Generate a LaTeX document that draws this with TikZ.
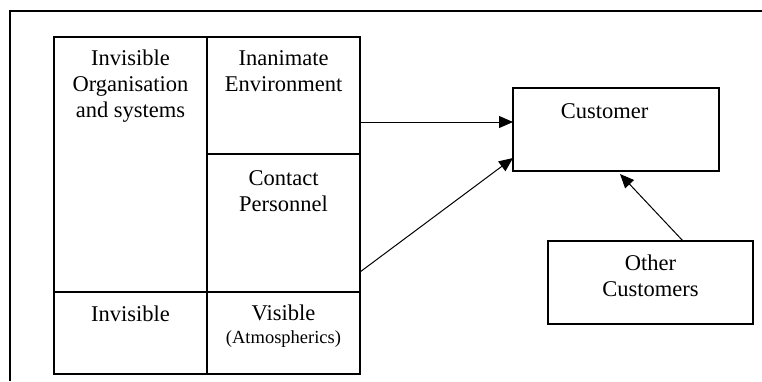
\documentclass[tikz,border=0pt]{standalone}
\usepackage{fontspec}
\setmainfont{Liberation Serif}
\usetikzlibrary{arrows.meta}
\begin{document}
\begin{tikzpicture}[x=1pt,y=-1pt,
  line width=1.2pt,
  cell/.style={draw, rectangle, inner sep=0pt, outer sep=0pt},
  % multi-line texts are placed by the baseline of their last line
  txt/.style={inner sep=0pt, align=center, anchor=base,
    font=\fontsize{22.5}{26}\selectfont},
  smalltxt/.style={inner sep=0pt, anchor=base,
    font=\fontsize{18.5}{22}\selectfont},
  arr/.style={-{Triangle[length=14pt,width=12pt]}, line width=1pt}]

\useasboundingbox (0,0) rectangle (762,381);

% open frame (top and left edges only)
\draw[line width=1.4pt] (10,381) -- (10,11) -- (762,11);

% service grid
\node[cell, minimum width=153pt, minimum height=255pt] (orgsys) at (130.5,164.5) {};
\node[cell, minimum width=153pt, minimum height=117pt] (inanimate) at (283.5,95.5) {};
\node[cell, minimum width=153pt, minimum height=138pt] (contact) at (283.5,223) {};
\node[cell, minimum width=153pt, minimum height=82pt] (invisible) at (130.5,333) {};
\node[cell, minimum width=153pt, minimum height=82pt] (visible) at (283.5,333) {};

\node[txt] (orgsystxt) at (130.5,117) {Invisible\\Organisation\\and systems};
\node[txt] (inanimatetxt) at (283.5,91) {Inanimate\\Environment};
\node[txt] (contacttxt) at (283.5,211) {Contact\\Personnel};
\node[txt] (invisibletxt) at (130.5,321) {Invisible};
\node[txt] (visibletxt) at (283.5,320) {Visible};
\node[smalltxt] (atmotxt) at (283.5,343) {(Atmospherics)};

% customers
\node[cell, minimum width=206pt, minimum height=83pt] (customer) at (616,129.5) {};
\node[txt] (customertxt) at (604.5,118) {Customer};
\node[cell, minimum width=205pt, minimum height=83pt] (others) at (650.5,282.5) {};
\node[txt] (otherstxt) at (650.5,296) {Other\\Customers};

% influences on the customer
\draw[arr] (inanimate.east |- 0,122) -- (customer.west |- 0,122);
\draw[arr] (contact.east |- 0,272) -- (customer.west |- 0,158);
\coordinate (custin) at (620,174);
\draw[arr] (others.north -| 683,0) -- (custin);
\end{tikzpicture}
\end{document}
